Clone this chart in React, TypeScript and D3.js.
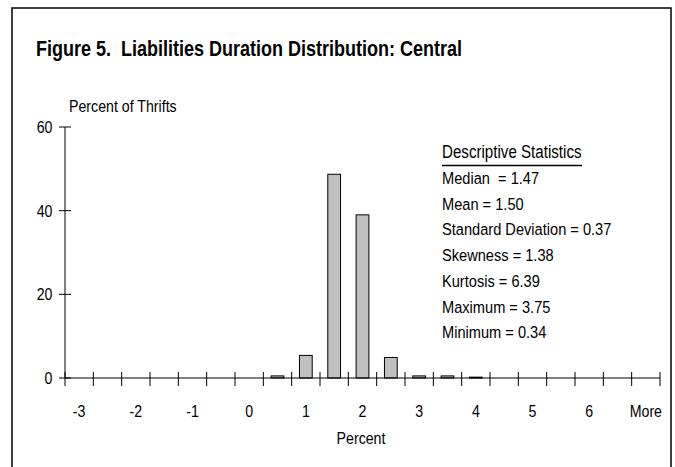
import React from "react";
import * as d3 from "d3";

const categories: string[] = [
  "-3", "-2.5", "-2", "-1.5", "-1", "-0.5", "0", "0.5", "1", "1.5", "2",
  "2.5", "3", "3.5", "4", "4.5", "5", "5.5", "6", "6.5", "More",
];
const tickLabels: string[] = ["-3", "-2", "-1", "0", "1", "2", "3", "4", "5", "6", "More"];
const percentOfThrifts: number[] = [
  0, 0, 0, 0, 0, 0, 0, 0.5, 5.4, 48.7, 39.0, 4.9, 0.5, 0.5, 0.2, 0, 0, 0, 0, 0, 0,
];
const yTicks: number[] = [0, 20, 40, 60];
const statsTitle = "Descriptive Statistics";
const statsLines: string[] = [
  "Median  = 1.47",
  "Mean = 1.50",
  "Standard Deviation = 0.37",
  "Skewness = 1.38",
  "Kurtosis = 6.39",
  "Maximum = 3.75",
  "Minimum = 0.34",
];

const W = 675;
const H = 467;
const FONT = "'Liberation Sans', Arial, sans-serif";
const SX = 0.86;

function NText(props: {
  x: number;
  y: number;
  size: number;
  anchor?: "start" | "middle" | "end";
  weight?: string;
  children: React.ReactNode;
}) {
  const { x, y, size, anchor = "start", weight = "normal", children } = props;
  return (
    <text
      transform={`translate(${x},${y}) scale(${SX},1)`}
      fontSize={size}
      fontFamily={FONT}
      fontWeight={weight}
      textAnchor={anchor}
      fill="#000"
      style={{ whiteSpace: "pre" }}
    >
      {children}
    </text>
  );
}

export default function App() {
  const x = d3
    .scaleBand<string>()
    .domain(categories)
    .range([65, 660])
    .paddingInner(0.55)
    .paddingOuter(0.275);
  const y = d3.scaleLinear().domain([0, 60]).range([378, 127]);
  const step = x.step();
  const x0 = 65;
  const boundaries = d3.range(categories.length + 1).map((i) => x0 + i * step);

  return (
    <svg
      width={W}
      height={H}
      style={{ position: "absolute", left: 0, top: 0, background: "#fff" }}
    >
      <rect x={0} y={0} width={W} height={H} fill="#fff" />
      {/* frame */}
      <path d={`M12,${H + 5} L12,8 L671,8 L671,${H + 5}`} fill="none" stroke="#000" strokeWidth={1.5} />

      {/* title */}
      <text
        x={36}
        y={56}
        fontSize={22.5}
        fontWeight="bold"
        fontFamily={FONT}
        textLength={426}
        lengthAdjust="spacingAndGlyphs"
        style={{ whiteSpace: "pre" }}
      >
        Figure 5.  Liabilities Duration Distribution: Central
      </text>

      {/* y axis title */}
      <NText x={69} y={111.5} size={16.5}>Percent of Thrifts</NText>

      {/* bars */}
      {categories.map((c, i) =>
        percentOfThrifts[i] > 0 ? (
          <rect
            key={c}
            x={x(c)!}
            y={y(percentOfThrifts[i])}
            width={x.bandwidth()}
            height={y(0) - y(percentOfThrifts[i])}
            fill="#c0c0c0"
            stroke="#000"
            strokeWidth={1}
          />
        ) : null
      )}

      {/* y axis */}
      <line x1={x0} x2={x0} y1={y(60)} y2={y(0)} stroke="#000" strokeWidth={1} />
      {yTicks.map((t) => (
        <g key={t}>
          <line x1={59} x2={71} y1={y(t)} y2={y(t)} stroke="#000" strokeWidth={1} />
          <NText x={52.5} y={y(t) + 6} size={16.5} anchor="end">{t}</NText>
        </g>
      ))}

      {/* x axis */}
      <line x1={x0} x2={660} y1={y(0)} y2={y(0)} stroke="#000" strokeWidth={1} />
      {boundaries.map((b, i) => (
        <line key={i} x1={b} x2={b} y1={y(0) - 6} y2={y(0) + 8} stroke="#000" strokeWidth={1} />
      ))}
      {tickLabels.map((l) => (
        <NText key={l} x={x(l)! + x.bandwidth() / 2} y={417} size={16.5} anchor="middle">
          {l}
        </NText>
      ))}
      <NText x={361} y={444} size={16.5} anchor="middle">Percent</NText>

      {/* stats */}
      <NText x={442} y={158} size={17.6}>{statsTitle}</NText>
      <line x1={442} x2={582} y1={165.5} y2={165.5} stroke="#000" strokeWidth={1.6} />
      {statsLines.map((s, i) => (
        <NText key={s} x={442} y={184 + i * 25.7} size={17}>
          {s}
        </NText>
      ))}
    </svg>
  );
}
